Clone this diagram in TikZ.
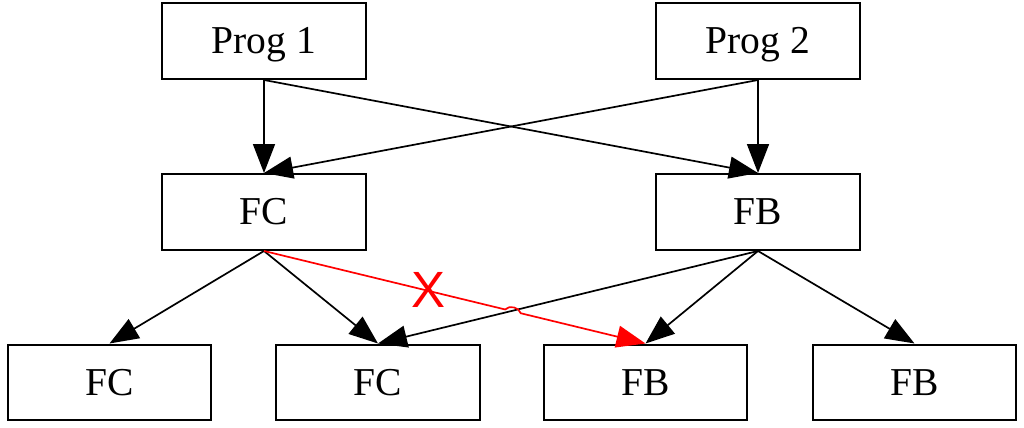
\documentclass[tikz,border=0pt]{standalone}
\usepackage{fontspec}
\setmainfont{Liberation Serif}
\newfontfamily\xfont{Liberation Sans}
\usetikzlibrary{arrows.meta,calc}
\begin{document}
\begin{tikzpicture}[x=0.02cm,y=-0.02cm,
  box/.style={draw,line width=0.04cm,minimum width=4.08cm,minimum height=1.52cm,inner sep=0pt,
    font=\fontsize{22.5}{26}\selectfont,text height=14.8pt,text depth=0pt},
  edge/.style={line width=0.034cm,-{Triangle[length=0.58cm,width=0.44cm]}},
  bad/.style={edge,red},
  xmark/.style={text=red,font=\xfont\fontsize{29}{32}\selectfont,inner sep=0pt}]
\useasboundingbox (0,0) rectangle (1024,428);
\node[box] (p1) at (264,41) {Prog 1};
\node[box] (p2) at (758,41) {Prog 2};
\node[box] (fc) at (264,212) {FC};
\node[box] (fb) at (758,212) {FB};
\node[box] (b1) at (109.5,382.5) {FC};
\node[box] (b2) at (378,382.5) {FC};
\node[box] (b3) at (645.5,382.5) {FB};
\node[box] (b4) at (914.5,382.5) {FB};
\draw[edge] (p1.south) -- (fc.north);
\draw[edge] (p1.south) -- (fb.north);
\draw[edge] (p2.south) -- (fb.north);
\draw[edge] (p2.south) -- (fc.north);
\draw[edge] (fc.south) -- (b1.north);
\draw[edge] (fc.south) -- (b2.north);
\draw[edge] (fb.south) -- (b2.north);
\draw[edge] (fb.south) -- (b3.north);
\draw[edge] (fb.south) -- (b4.north);
\coordinate (h1) at ($(fc.south)!0.632!(b3.north)$);
\coordinate (h2) at ($(fc.south)!0.673!(b3.north)$);
\draw[bad] (fc.south) -- (h1) to[bend left=60] (h2) -- (b3.north);
\node[xmark] (x) at (428.5,290) {X};
\end{tikzpicture}
\end{document}
